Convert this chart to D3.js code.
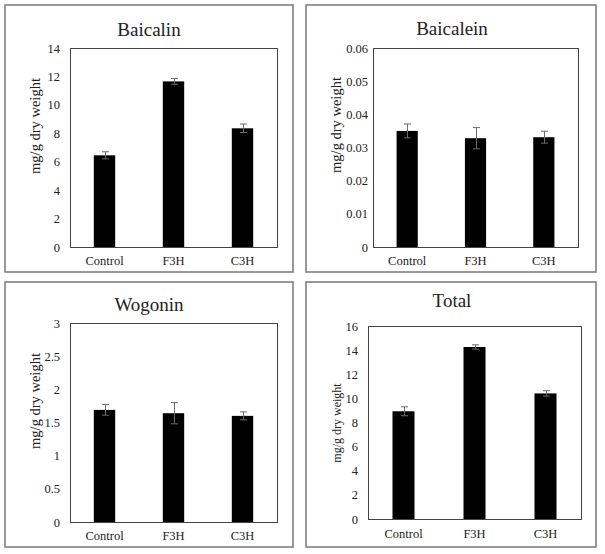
<!DOCTYPE html>
<html>
<head>
<meta charset="utf-8">
<script src="https://cdn.jsdelivr.net/npm/d3@7"></script>
<style>
  html, body { margin: 0; padding: 0; background: #fff; }
  svg { display: block; }
  svg text { font-family: "Liberation Serif", "DejaVu Serif", "Times New Roman", serif; fill: #222; }
</style>
</head>
<body>
<svg id="chart" width="605" height="554"></svg>
<script>
// ---- Data ----
const categories = ["Control", "F3H", "C3H"];

const baicalin      = [6.45, 11.65, 8.35];
const baicalinErr   = [0.25, 0.20, 0.30];
const baicalinTicks = [0, 2, 4, 6, 8, 10, 12, 14];

const baicalein      = [0.0350, 0.0328, 0.0331];
const baicaleinErr   = [0.0021, 0.0032, 0.0018];
const baicaleinTicks = [0, 0.01, 0.02, 0.03, 0.04, 0.05, 0.06];

const wogonin      = [1.69, 1.64, 1.60];
const wogoninErr   = [0.08, 0.16, 0.06];
const wogoninTicks = [0, 0.5, 1, 1.5, 2, 2.5, 3];

const total      = [8.93, 14.26, 10.41];
const totalErr   = [0.37, 0.18, 0.22];
const totalTicks = [0, 2, 4, 6, 8, 10, 12, 14, 16];

const titles = ["Baicalin", "Baicalein", "Wogonin", "Total"];
const yLabel = "mg/g dry weight";

const FONT = '"Liberation Serif", "DejaVu Serif", "Times New Roman", serif';

// ---- Layout ----
const panels = [
  { title: titles[0], values: baicalin, errs: baicalinErr, ticks: baicalinTicks,
    frame: [5, 5, 293, 272], plot: [70, 48, 277, 247], titleX: 149, titleY: 36,
    tickGap: 10, ylx: 35, yly: 126, ylSize: 14.5, xlabGap: 18 },
  { title: titles[1], values: baicalein, errs: baicaleinErr, ticks: baicaleinTicks,
    frame: [306, 5, 596, 272], plot: [373, 48, 578, 247], titleX: 452, titleY: 35,
    tickGap: 5, ylx: 336, yly: 125, ylSize: 14.5, xlabGap: 18 },
  { title: titles[2], values: wogonin, errs: wogoninErr, ticks: wogoninTicks,
    frame: [5, 282, 293, 547], plot: [70, 323, 277, 522], titleX: 149, titleY: 311,
    tickGap: 10, ylx: 35, yly: 401, ylSize: 14.5, xlabGap: 18 },
  { title: titles[3], values: total, errs: totalErr, ticks: totalTicks,
    frame: [306, 282, 596, 547], plot: [368, 326, 581, 519], titleX: 452, titleY: 307,
    tickGap: 10, ylx: 337, yly: 423, ylSize: 12, xlabGap: 19 }
];

const svg = d3.select("#chart");
svg.append("rect").attr("width", 605).attr("height", 554).attr("fill", "#fff");

panels.forEach(p => {
  const [fx0, fy0, fx1, fy1] = p.frame;
  const [px0, py0, px1, py1] = p.plot;
  const g = svg.append("g").style("font-family", FONT);

  // outer frame
  g.append("rect")
    .attr("x", fx0).attr("y", fy0)
    .attr("width", fx1 - fx0).attr("height", fy1 - fy0)
    .attr("fill", "none").attr("stroke", "#808080").attr("stroke-width", 1.6);

  const x = d3.scaleBand().domain(categories).range([px0, px1])
    .paddingInner(0.69).paddingOuter(0.345);
  const y = d3.scaleLinear().domain([p.ticks[0], p.ticks[p.ticks.length - 1]]).range([py1, py0]);

  // title
  g.append("text")
    .attr("x", p.titleX)
    .attr("y", p.titleY)
    .attr("text-anchor", "middle")
    .style("font-family", FONT)
    .attr("font-size", 19)
    .text(p.title);

  // bars
  g.selectAll("rect.bar").data(p.values).join("rect")
    .attr("class", "bar")
    .attr("x", (d, i) => x(categories[i]))
    .attr("y", d => y(d))
    .attr("width", x.bandwidth())
    .attr("height", d => y(0) - y(d))
    .attr("fill", "#000");

  // error bars
  const eg = g.append("g").attr("stroke", "#6a6a6a").attr("stroke-width", 1).attr("fill", "none");
  p.values.forEach((v, i) => {
    const cx = Math.round(x(categories[i]) + x.bandwidth() / 2) + 0.5;
    const yt = y(v + p.errs[i]), yb = y(v - p.errs[i]);
    eg.append("line").attr("x1", cx).attr("x2", cx).attr("y1", yt).attr("y2", yb);
    eg.append("line").attr("x1", cx - 3.5).attr("x2", cx + 3.5).attr("y1", yt).attr("y2", yt);
    eg.append("line").attr("x1", cx - 3.5).attr("x2", cx + 3.5).attr("y1", yb).attr("y2", yb);
  });

  // plot-area border
  g.append("rect")
    .attr("x", px0 + 0.5).attr("y", py0 + 0.5)
    .attr("width", px1 - px0).attr("height", py1 - py0)
    .attr("fill", "none").attr("stroke", "#444").attr("stroke-width", 1);

  // y axis (labels only)
  const ya = g.append("g").attr("transform", `translate(${px0 - p.tickGap},0)`)
    .call(d3.axisLeft(y).tickValues(p.ticks).tickSize(0).tickPadding(0)
      .tickFormat(d => String(+d.toFixed(4))));
  ya.attr("font-family", null).style("font-family", FONT);
  ya.select(".domain").remove();
  ya.selectAll("text").attr("font-size", 12.5).style("font-family", FONT).attr("fill", "#222");

  // x axis labels
  const xa = g.append("g").attr("transform", `translate(0,${py1})`)
    .call(d3.axisBottom(x).tickSize(0).tickPadding(0));
  xa.attr("font-family", null).style("font-family", FONT);
  xa.select(".domain").remove();
  xa.selectAll("text").attr("font-size", 12.5).attr("dy", null).attr("y", p.xlabGap)
    .style("font-family", FONT).attr("fill", "#222");

  // y label
  g.append("text")
    .attr("transform", `translate(${p.ylx},${p.yly}) rotate(-90)`)
    .attr("text-anchor", "middle")
    .attr("dominant-baseline", "central")
    .style("font-family", FONT)
    .attr("font-size", p.ylSize)
    .text(yLabel);
});
</script>
</body>
</html>
